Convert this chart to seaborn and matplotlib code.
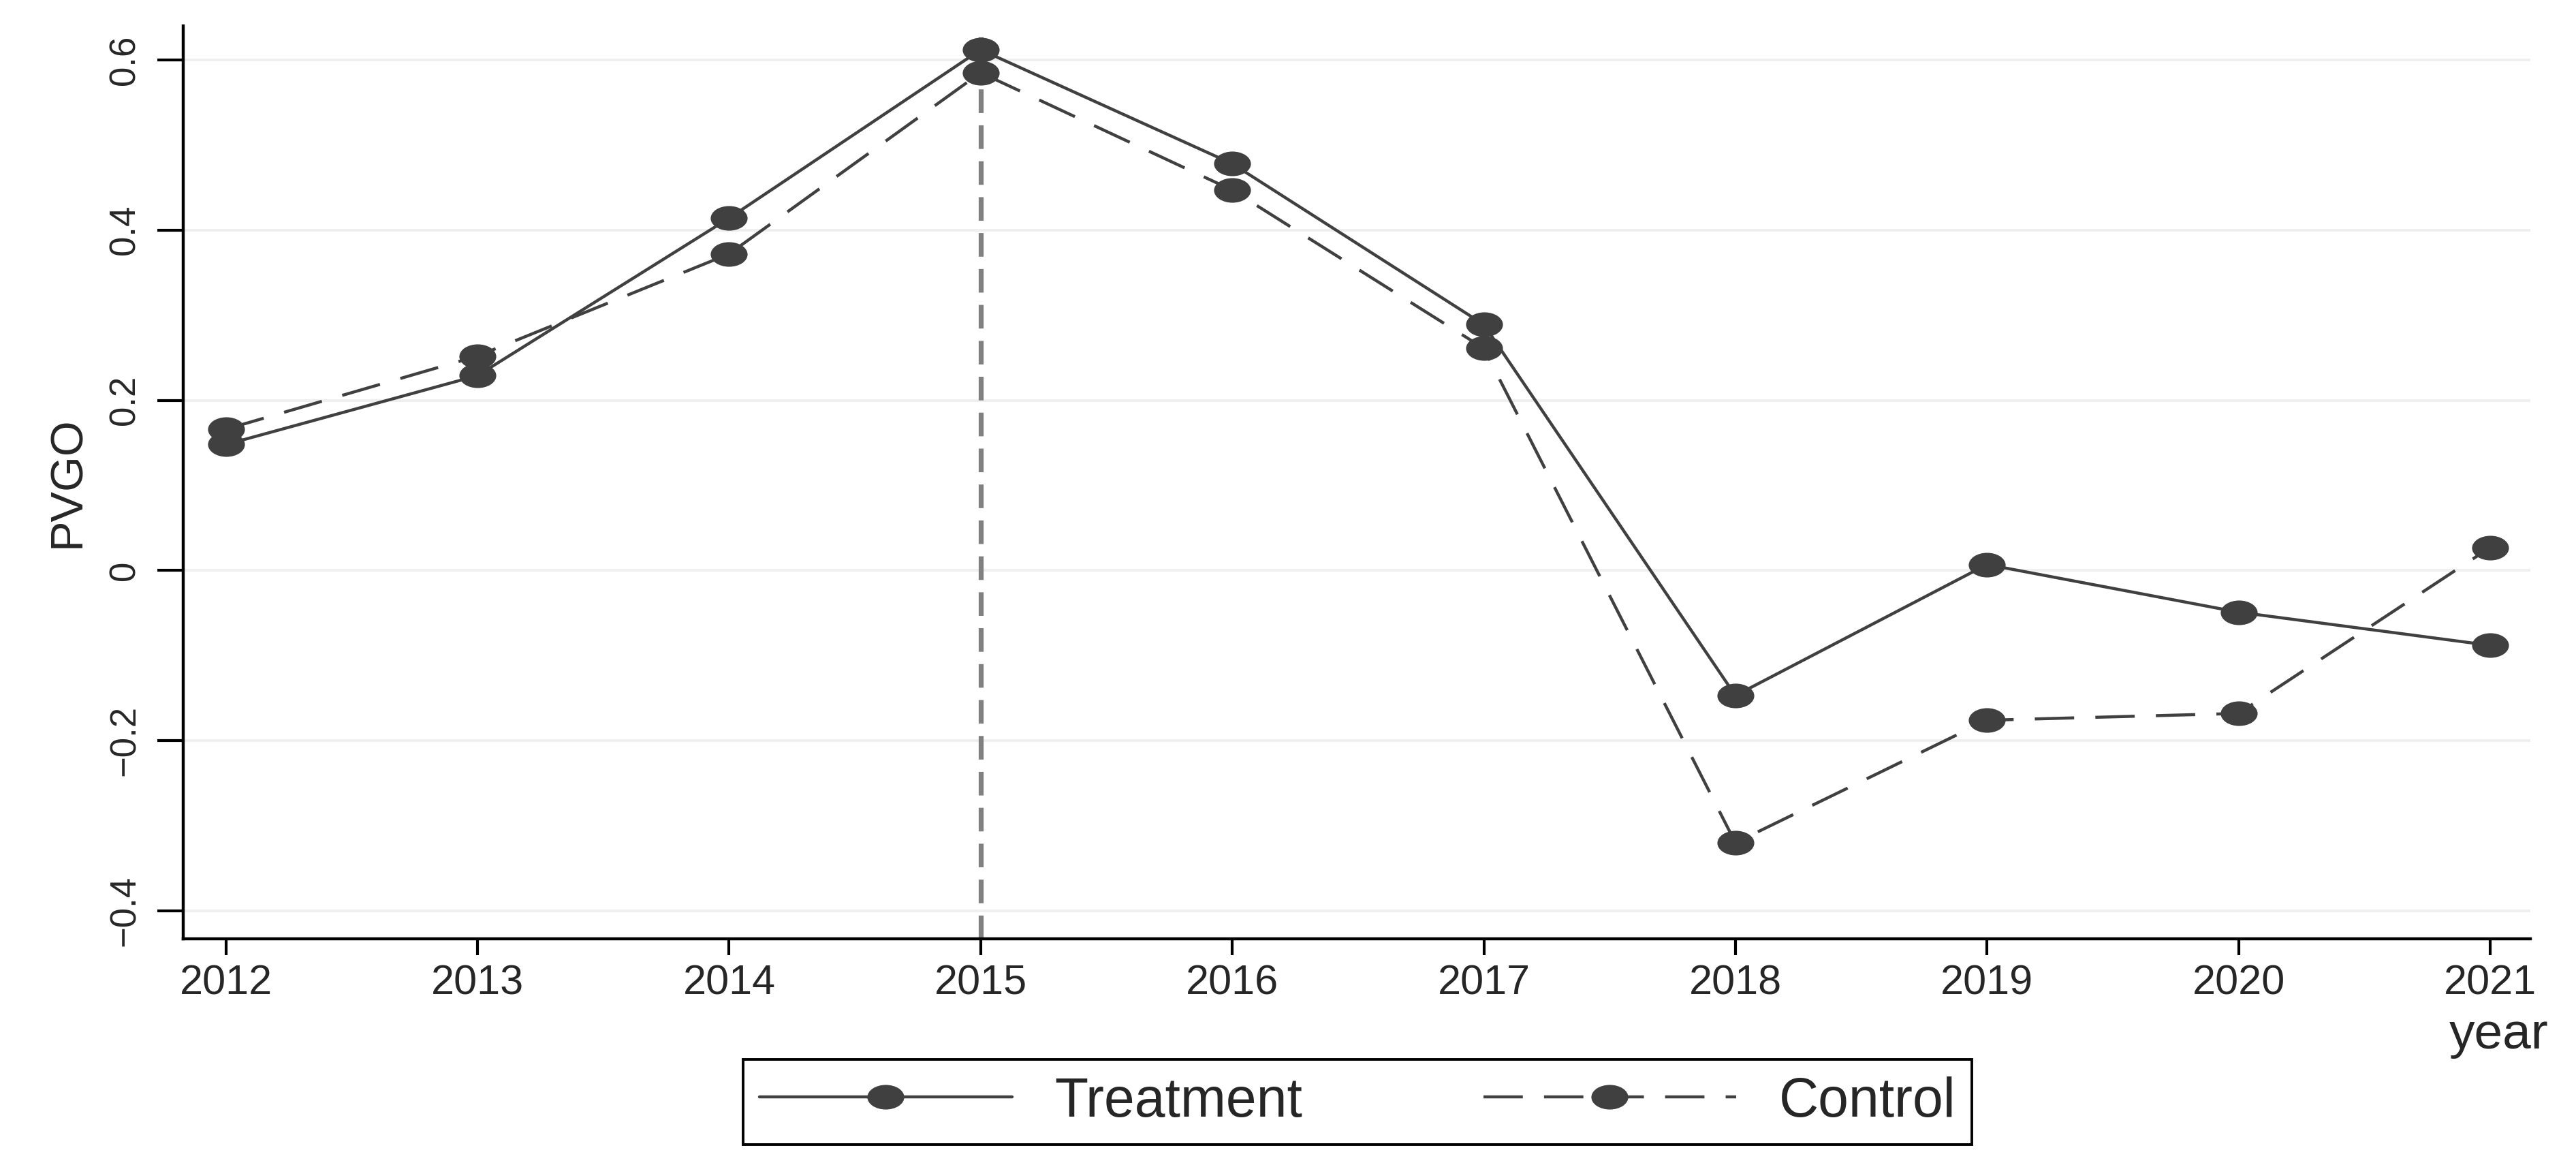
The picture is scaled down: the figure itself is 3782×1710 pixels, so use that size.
import matplotlib
matplotlib.use("Agg")
import matplotlib.pyplot as plt
import seaborn as sns
from matplotlib.path import Path
from matplotlib.transforms import Affine2D

# данные
years = [2012, 2013, 2014, 2015, 2016, 2017, 2018, 2019, 2020, 2021]
treatment = [0.148, 0.229, 0.414, 0.612, 0.478, 0.289, -0.147, 0.007, -0.049, -0.088]
control = [0.166, 0.252, 0.372, 0.585, 0.447, 0.261, -0.320, -0.176, -0.168, 0.027]
event_year = 2015
y_ticks = [-0.4, -0.2, 0, 0.2, 0.4, 0.6]
y_tick_labels = ["\u22120.4", "\u22120.2", "0", "0.2", "0.4", "0.6"]

sns.set_theme(style="white")
plt.rcParams["font.family"] = ["Liberation Sans", "DejaVu Sans"]

line_color = "#404040"
# маркер-эллипс как в Stata
ellipse = Path.unit_circle().transformed(Affine2D().scale(1.5, 1.0))

fig = plt.figure(figsize=(18.91, 8.55), dpi=200)
ax = fig.add_axes([0.0711, 0.1942, 0.9112, 0.7836])

ax.axvline(event_year, ymax=0.988, color="#808080", lw=2.6,
           linestyle=(0, (4.8, 2.5)), zorder=1)

sns.lineplot(x=years, y=treatment, ax=ax, color=line_color, lw=1.6,
             marker=ellipse, markersize=19.5, markeredgewidth=0,
             markerfacecolor=line_color, label="Treatment", zorder=3)
sns.lineplot(x=years, y=control, ax=ax, color=line_color, lw=1.6,
             linestyle=(0, (13, 7)), marker=ellipse, markersize=19.5,
             markeredgewidth=0, markerfacecolor=line_color,
             label="Control", zorder=3)

ax.set_xlim(2011.83, 2021.16)
ax.set_ylim(-0.4328, 0.640)
ax.set_xticks(years)
ax.set_xticklabels([str(y) for y in years])
ax.set_yticks(y_ticks)
ax.set_yticklabels(y_tick_labels, rotation=90, va="center")

ax.yaxis.grid(True, color="#efefef", lw=1.4)
ax.xaxis.grid(False)
ax.set_axisbelow(True)

for side in ["top", "right"]:
    ax.spines[side].set_visible(False)
for side in ["left", "bottom"]:
    ax.spines[side].set_color("black")
    ax.spines[side].set_linewidth(1.6)

ax.tick_params(axis="x", direction="out", length=8.6, width=1.5,
               color="black", labelsize=22, pad=5, bottom=True)
ax.tick_params(axis="y", direction="out", length=13.7, width=1.5,
               color="black", labelsize=19, pad=8, left=True)

ax.set_ylabel("PVGO", fontsize=24, labelpad=10)
ax.set_xlabel("year", fontsize=27)
ax.xaxis.set_label_coords(1.0078, -0.106)
ax.xaxis.label.set_ha("right")
ax.xaxis.label.set_va("center")

handles, labels = ax.get_legend_handles_labels()
if ax.get_legend() is not None:
    ax.get_legend().remove()
leg = fig.legend(handles, labels, loc="center", bbox_to_anchor=(0.527, 0.054),
                 ncol=2, fontsize=29, frameon=True, fancybox=False,
                 framealpha=1, edgecolor="black", handlelength=4.6,
                 handletextpad=0.78, columnspacing=3.3, borderpad=0.3,
                 numpoints=1)
leg.get_frame().set_linewidth(1.4)

fig.savefig("out.png", dpi=200)
